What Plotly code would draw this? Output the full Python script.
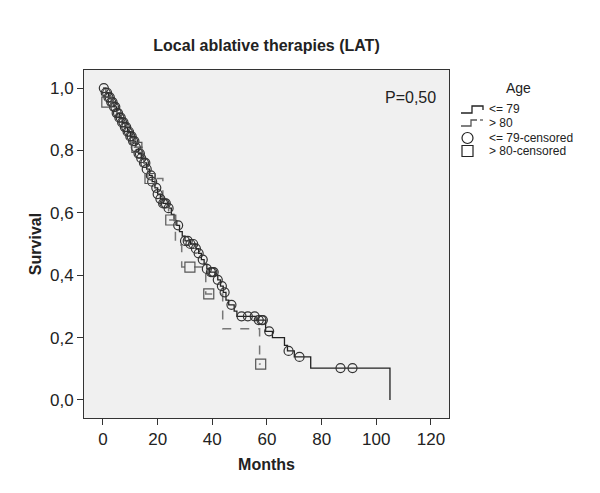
import numpy as np
import plotly.graph_objects as go

# Kaplan-Meier steps, age <= 79
t_79 = [0, 1, 2, 3, 4, 5, 6, 7, 8, 9, 10, 11, 12, 13, 14, 15, 16, 17, 18, 19,
        20, 21, 22, 24, 25, 26, 27, 28, 29, 30, 32, 34, 35, 36, 37, 38, 39, 41,
        42, 43, 44, 45, 46, 48, 49, 56, 59.5, 62, 66.4, 67.5, 70, 76, 105]
s_79 = [1.0, 0.985, 0.97, 0.955, 0.94, 0.92, 0.905, 0.89, 0.875, 0.86, 0.845,
        0.83, 0.81, 0.79, 0.775, 0.76, 0.74, 0.72, 0.70, 0.68, 0.66, 0.645,
        0.63, 0.615, 0.595, 0.575, 0.56, 0.54, 0.525, 0.51, 0.50, 0.485, 0.47,
        0.45, 0.435, 0.42, 0.41, 0.40, 0.385, 0.365, 0.345, 0.32, 0.305, 0.285,
        0.268, 0.256, 0.22, 0.20, 0.175, 0.157, 0.138, 0.102, 0.0]

# Kaplan-Meier steps, age > 80
t_80 = [0, 1, 5, 8, 11, 15, 16.4, 21.9, 24, 26.5, 28.8, 37.6, 43.8, 57.3, 57.7]
s_80 = [1.0, 0.955, 0.91, 0.87, 0.81, 0.76, 0.71, 0.65, 0.577, 0.497, 0.426,
        0.34, 0.228, 0.115, 0.115]

# censored times
cens_79 = [0.3, 1, 1.5, 2, 2.5, 3, 3.5, 4, 4.5, 5, 5.5, 6, 6.5, 7, 7.5, 8, 8.5,
           9, 9.5, 10, 10.5, 11, 11.5, 12, 13, 13.5, 14, 15, 15.5, 16, 17.5, 18,
           19.5, 20, 21, 22, 22.5, 23, 24, 27.5, 30, 31, 32, 33, 34, 35, 36.5,
           38, 39.5, 40, 40.5, 42, 43.5, 44.5, 47, 50.7, 53, 55.5, 57, 58, 58.5,
           60.8, 67.9, 71.9, 86.9, 91.3]
cens_80 = [1.4, 12.4, 17.2, 24.8, 31.8, 38.7, 57.7]

legend_labels = ["<= 79", "> 80", "<= 79-censored", "> 80-censored"]


def km_at(ts, times, surv):
    times = np.asarray(times)
    surv = np.asarray(surv)
    idx = np.searchsorted(times, ts, side="right") - 1
    return surv[idx]


fig = go.Figure()
fig.add_trace(go.Scatter(x=t_79, y=s_79, mode="lines", line_shape="hv",
                         line=dict(color="#222222", width=1.3), name=legend_labels[0]))
fig.add_trace(go.Scatter(x=t_80, y=s_80, mode="lines", line_shape="hv",
                         line=dict(color="#777777", width=1.5, dash="dash"),
                         name=legend_labels[1]))
fig.add_trace(go.Scatter(x=cens_79, y=km_at(cens_79, t_79, s_79), mode="markers",
                         marker=dict(symbol="circle-open", size=9, color="#333333",
                                     line=dict(width=1.2)),
                         name=legend_labels[2]))
fig.add_trace(go.Scatter(x=cens_80, y=km_at(cens_80, t_80, s_80), mode="markers",
                         marker=dict(symbol="square-open", size=10, color="#555555",
                                     line=dict(width=1.2)),
                         name=legend_labels[3]))

# page body adds an 8px offset, so the figure is 8px smaller with shifted margins
FONT = "Liberation Sans, Arial, sans-serif"
axis_font = dict(family=FONT, size=17, color="#222")
fig.update_layout(
    width=592, height=485,
    margin=dict(l=76, r=151, t=62, b=75),
    paper_bgcolor="white",
    plot_bgcolor="#F0F0F0",
    separators=", ",
    font=dict(family=FONT, color="#222"),
    title=dict(text="<b>Local ablative therapies (LAT)</b>", x=0.5, xref="paper",
               xanchor="center", y=1 - 37 / 485, yref="container", yanchor="middle",
               font=dict(size=16)),
    showlegend=False,
)
fig.update_xaxes(range=[-6.95, 126.6], tickvals=[0, 20, 40, 60, 80, 100, 120],
                 ticks="outside", ticklen=6, tickcolor="#333", showgrid=False,
                 zeroline=False, showline=True, linecolor="#333", mirror=True,
                 tickfont=axis_font,
                 title=dict(text="<b>Months</b>", font=dict(size=16), standoff=10))
fig.update_yaxes(range=[-0.058, 1.058], tickvals=[0, 0.2, 0.4, 0.6, 0.8, 1.0],
                 tickformat=".1f",
                 ticks="outside", ticklen=6, tickcolor="#333", showgrid=False,
                 zeroline=False, showline=True, linecolor="#333", mirror=True,
                 tickfont=axis_font,
                 title=dict(text="<b>Survival</b>", font=dict(size=16), standoff=4))
fig.add_annotation(text="P=0,50", x=0.97, y=0.922, xref="paper", yref="paper",
                   xanchor="right", yanchor="middle", showarrow=False,
                   font=dict(size=16, family=FONT))


# SPSS-style legend drawn by hand (window pixels -> paper coords)
def px(wx):
    return (wx - 84) / 365


def py(wy):
    return (418 - wy) / 348


fig.add_annotation(text="Age", x=px(518), y=py(88), xref="paper", yref="paper",
                   showarrow=False, xanchor="center", yanchor="middle",
                   font=dict(size=14, family=FONT))
row_y = [109, 123, 138, 151]
for lab, wy in zip(legend_labels, row_y):
    fig.add_annotation(text=lab, x=px(487), y=py(wy), xref="paper", yref="paper",
                       showarrow=False, xanchor="left", yanchor="middle",
                       font=dict(size=12, family=FONT))


def path(points):
    return "M " + " L ".join(f"{px(a)},{py(b)}" for a, b in points)


fig.add_shape(type="path", xref="paper", yref="paper",
              path=path([(461, 113), (472, 113), (472, 106), (483, 106), (483, 110)]),
              line=dict(color="#222", width=1.3))
fig.add_shape(type="path", xref="paper", yref="paper",
              path=path([(461, 126), (471, 126), (471, 120), (477, 120)]),
              line=dict(color="#555", width=1.3))
fig.add_shape(type="line", xref="paper", yref="paper",
              x0=px(480), x1=px(483), y0=py(120), y1=py(120),
              line=dict(color="#555", width=1.3))
fig.add_shape(type="circle", xref="paper", yref="paper",
              x0=px(462), x1=px(473), y0=py(132.5), y1=py(143.5),
              line=dict(color="#222", width=1.2))
fig.add_shape(type="rect", xref="paper", yref="paper",
              x0=px(462), x1=px(473), y0=py(145.5), y1=py(156.5),
              line=dict(color="#222", width=1.2))

fig.write_html("out.html")
